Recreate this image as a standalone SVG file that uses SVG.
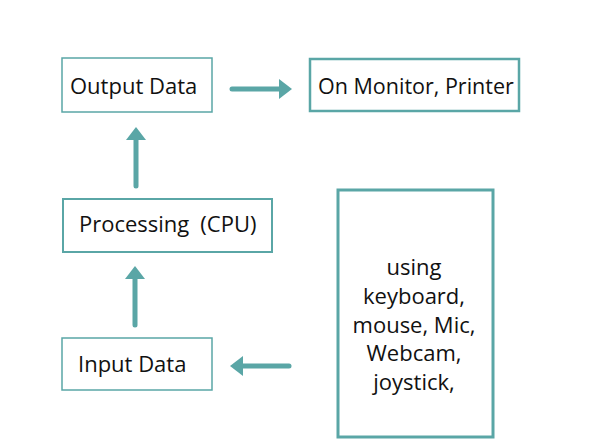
<svg xmlns="http://www.w3.org/2000/svg" width="601" height="448" viewBox="0 0 601 448">
<style>
.box{fill:#fff;stroke:#5aa6a6}
.t{font-family:"Open Sans","DejaVu Sans",sans-serif;font-size:22px;fill:#111}
.s{font-size:21.5px}
.c{stroke:#5aa6a6;stroke-width:5;stroke-linecap:round;fill:none}
.h{fill:#5aa6a6}
</style>
<rect width="601" height="448" fill="#fff"/>
<g id="output-data"><rect class="box" x="62" y="58" width="150" height="54" stroke-width="1.5"/><text class="t" x="70" y="94">Output Data</text></g>
<g id="monitor-printer"><rect class="box" x="310" y="59" width="209" height="52" stroke-width="2.5"/><text class="t s" x="318" y="94">On Monitor, Printer</text></g>
<g id="processing"><rect class="box" x="63" y="199" width="209" height="53" stroke-width="2"/><text class="t" x="79" y="232">Processing<tspan dx="11">(CPU)</tspan></text></g>
<g id="input-data"><rect class="box" x="62" y="338" width="150" height="52" stroke-width="1.5"/><text class="t" x="78" y="372">Input Data</text></g>
<g id="devices"><rect class="box" x="338" y="190" width="155" height="247" stroke-width="3"/>
<text class="t" text-anchor="middle" x="414" y="275">using</text>
<text class="t" text-anchor="middle" x="414" y="304">keyboard,</text>
<text class="t" text-anchor="middle" x="414" y="333">mouse, Mic,</text>
<text class="t" text-anchor="middle" x="414" y="361">Webcam,</text>
<text class="t" text-anchor="middle" x="414" y="390">joystick,</text></g>
<g id="connectors">
<line class="c" x1="232" y1="89" x2="280" y2="89"/><path class="h" d="M292,89 L279,79 L279,99 Z"/>
<line class="c" x1="136" y1="186" x2="136" y2="139"/><path class="h" d="M136,127 L126,140 L146,140 Z"/>
<line class="c" x1="135" y1="325" x2="135" y2="278"/><path class="h" d="M135,266 L125,279 L145,279 Z"/>
<line class="c" x1="289" y1="366" x2="242" y2="366"/><path class="h" d="M230,366 L243,356 L243,376 Z"/>
</g>
</svg>
